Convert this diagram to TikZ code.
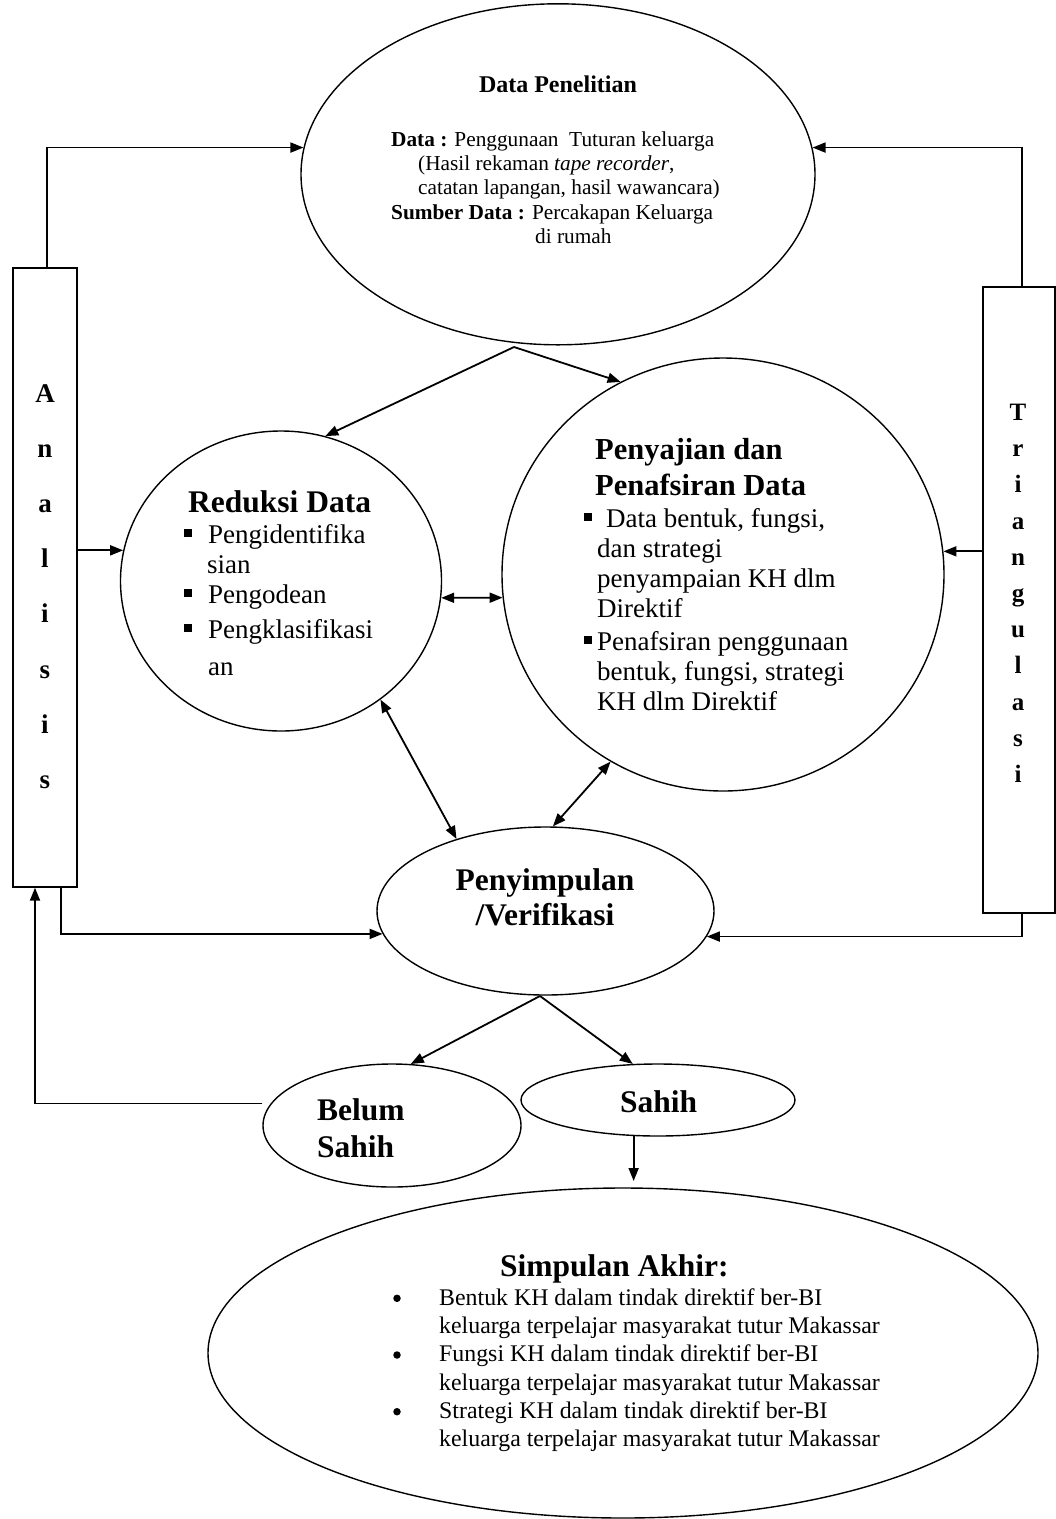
\documentclass[tikz,border=0pt]{standalone}
\usepackage{fontspec}
\setmainfont{Liberation Serif}
\usetikzlibrary{shapes.geometric,arrows.meta}
\begin{document}
\begin{tikzpicture}[x=1pt,y=-1pt,
  shp/.style={draw, line width=1.4pt, ellipse, inner sep=0pt},
  bx/.style={draw, line width=1.4pt, rectangle, inner sep=0pt},
  conn/.style={line width=1.8pt},
  arr/.style={conn,-{Triangle[length=13pt,width=10pt]}},
  darr/.style={conn,{Triangle[length=13pt,width=10pt]}-{Triangle[length=13pt,width=10pt]}},
  tl/.style={inner sep=0pt, anchor=base west},
  tc/.style={inner sep=0pt, anchor=base},
  ftop/.style={font=\fontsize{21.3}{24}\selectfont},
  fitem/.style={font=\fontsize{27}{30}\selectfont},
  fhead/.style={font=\bfseries\fontsize{31.5}{35}\selectfont},
  fsim/.style={font=\fontsize{23.85}{28}\selectfont},
  flet/.style={inner sep=0pt, anchor=base, font=\bfseries\fontsize{27}{30}\selectfont},
  sq/.style={fill, rectangle, inner sep=0pt, minimum size=7.5pt},
  dot/.style={fill, circle, inner sep=0pt, minimum size=7.5pt}
]
\useasboundingbox (0,0) rectangle (1056,1519);

% shapes
\node[shp, minimum width=514pt, minimum height=341pt] (dp) at (558,174.3) {};
\node[shp, minimum width=321pt, minimum height=300pt] (nRed) at (281,581) {};
\node[shp, minimum width=442pt, minimum height=433pt] (pen) at (723,574.5) {};
\node[shp, minimum width=337pt, minimum height=168pt] (pv) at (545.5,911) {};
\node[shp, minimum width=258pt, minimum height=123pt] (bs) at (392,1125.5) {};
\node[shp, minimum width=274pt, minimum height=72pt] (sh) at (658,1100) {};
\node[shp, minimum width=830pt, minimum height=330pt] (sa) at (623,1353) {};
\node[bx, minimum width=64pt, minimum height=619pt] (ana) at (45,577.5) {};
\node[bx, minimum width=72pt, minimum height=626pt] (tri) at (1019,600) {};

% Data Penelitian text
\node[tc, font=\bfseries\fontsize{24}{27}\selectfont] (dpT) at (558,92) {Data Penelitian};
\node[tl, ftop] (dp1) at (391,146) {\textbf{Data :} Penggunaan\ \ Tuturan keluarga};
\node[tl, ftop] (dp2) at (418,170) {(Hasil rekaman \textit{tape recorder},};
\node[tl, ftop] (dp3) at (418,194) {catatan lapangan, hasil wawancara)};
\node[tl, ftop] (dp4) at (391,219) {\textbf{Sumber Data :} Percakapan Keluarga};
\node[tl, ftop] (dp5) at (535,243) {di rumah};

% Reduksi Data text
\node[tl, fhead] (rT) at (188,512) {Reduksi Data};
\node[sq] (rb1) at (188,533) {};
\node[tl, fitem] (r1) at (208,543) {Pengidentifika};
\node[tl, fitem] (r1b) at (207,573) {sian};
\node[sq] (rb2) at (188,593) {};
\node[tl, fitem] (r2) at (208,603) {Pengodean};
\node[sq] (rb3) at (188,628) {};
\node[tl, fitem] (r3) at (208,638) {Pengklasifikasi};
\node[tl, fitem] (r3b) at (208,675) {an};

% Penyajian text
\node[tl, font=\bfseries\fontsize{30.5}{34}\selectfont] (pT1) at (595,459) {Penyajian dan};
\node[tl, font=\bfseries\fontsize{30.5}{34}\selectfont] (pT2) at (595,495) {Penafsiran Data};
\node[sq] (pb1) at (588,517) {};
\node[tl, fitem] (p1) at (606,527) {Data bentuk, fungsi,};
\node[tl, fitem] (p2) at (597,557) {dan strategi};
\node[tl, fitem] (p3) at (597,587) {penyampaian KH dlm};
\node[tl, fitem] (p4) at (597,617) {Direktif};
\node[sq] (pb2) at (588,640) {};
\node[tl, fitem] (p5) at (597,650) {Penafsiran penggunaan};
\node[tl, fitem] (p6) at (597,680) {bentuk, fungsi, strategi};
\node[tl, fitem] (p7) at (597,710) {KH dlm Direktif};

% Penyimpulan text
\node[tc, fhead] (v1) at (545,890) {Penyimpulan};
\node[tc, fhead] (v2) at (545,925) {/Verifikasi};

% Belum Sahih / Sahih
\node[tl, fhead] (bs1) at (317,1120) {Belum};
\node[tl, fhead] (bs2) at (317,1157) {Sahih};
\node[tl, fhead] (sh1) at (620,1112) {Sahih};

% Simpulan Akhir
\node[tl, fhead] (saT) at (500,1276) {Simpulan Akhir:};
\node[dot] (sb1) at (397,1298.3) {};
\node[tl, fsim] (s1a) at (439,1305) {Bentuk KH dalam tindak direktif ber-BI};
\node[tl, fsim] (s1b) at (439,1333.3) {keluarga terpelajar masyarakat tutur Makassar};
\node[dot] (sb2) at (397,1355) {};
\node[tl, fsim] (s2a) at (439,1361.7) {Fungsi KH dalam tindak direktif ber-BI};
\node[tl, fsim] (s2b) at (439,1390) {keluarga terpelajar masyarakat tutur Makassar};
\node[dot] (sb3) at (397,1411.7) {};
\node[tl, fsim] (s3a) at (439,1418.3) {Strategi KH dalam tindak direktif ber-BI};
\node[tl, fsim] (s3b) at (439,1446.7) {keluarga terpelajar masyarakat tutur Makassar};

% Analisis letters
\foreach \l/\yy [count=\i] in {A/402,n/457,a/512,l/567,i/622,s/678,i/733,s/788}
  \node[flet] (an\i) at (45,\yy) {\l};
% Triangulasi letters
\foreach \l/\yy [count=\i] in {T/420,r/456,i/492,a/529,n/565,g/601,u/637,l/673,a/710,s/746,i/782}
  \node[flet, font=\bfseries\fontsize{25}{28}\selectfont] (tr\i) at (1018,\yy) {\l};

% connectors
\coordinate (s1) at (514,347);
\coordinate (s2) at (540,996);
\coordinate (shtip) at (634,1181);

\draw[arr] ([xshift=2pt]ana.north) |- (dp.174);
\draw[arr] ([xshift=3pt]tri.north) |- (dp.6);
\draw[arr] (s1) -- (nRed.73);
\draw[arr] (s1) -- (pen.118);
\draw[arr] (ana.east |- nRed.169) -- (nRed.169);
\draw[arr] (tri.west |- pen.6) -- (pen.6);
\draw[darr] (nRed.354) -- (pen.186);
\draw[darr] (nRed.310) -- (pv.141);
\draw[darr] (pen.239) -- (pv.85);
\draw[arr] ([xshift=16pt]ana.south) |- (pv.188.5);
\draw[arr] ([xshift=3pt]tri.south) |- (pv.351.5);
\draw[arr] (s2) -- (bs.73);
\draw[arr] (s2) -- (sh.125);
\draw[arr] (sh.236) -- (sh.236 |- shtip);
\draw[arr] ([yshift=22pt]bs.west) -| ([xshift=-10pt]ana.south);
\end{tikzpicture}
\end{document}
